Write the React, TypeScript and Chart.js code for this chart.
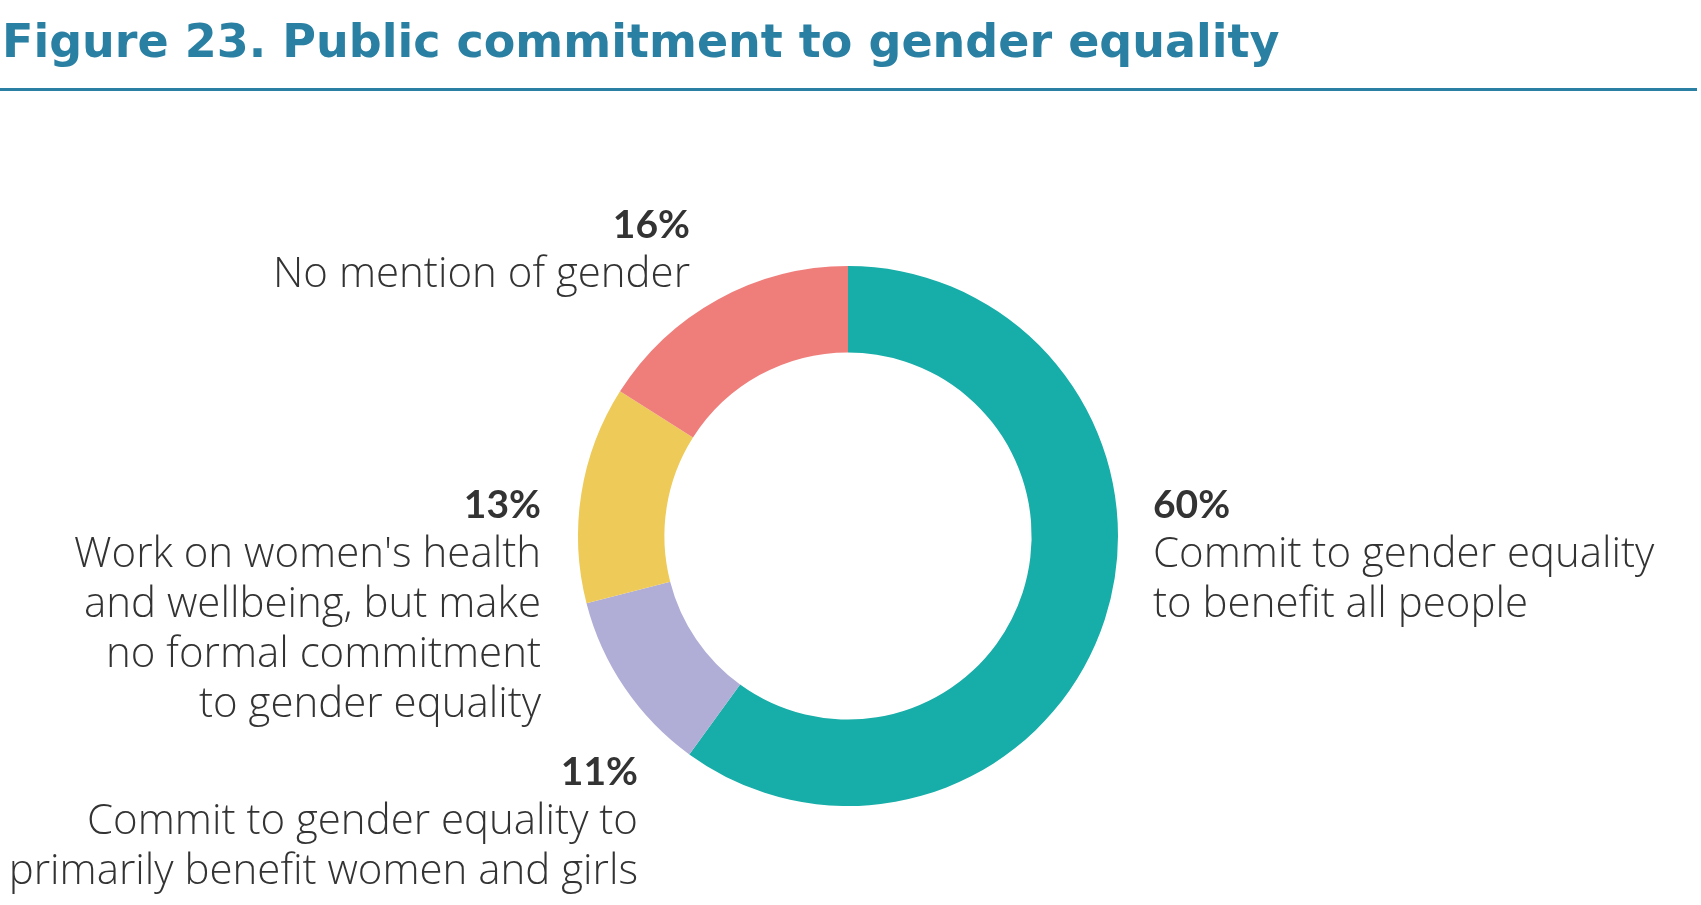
import React, { useEffect, useRef } from "react";
import { Chart, registerables } from "chart.js";

Chart.register(...registerables);

const categories = [
  "Commit to gender equality to benefit all people",
  "Commit to gender equality to primarily benefit women and girls",
  "Work on women's health and wellbeing, but make no formal commitment to gender equality",
  "No mention of gender",
];
const values = [60, 11, 13, 16];
const colors = ["#17ADA8", "#B0AED6", "#EECA58", "#EF7E7B"];
const labelLines = [
  ["Commit to gender equality", "to benefit all people"],
  ["Commit to gender equality to", "primarily benefit women and girls"],
  ["Work on women's health", "and wellbeing, but make", "no formal commitment", "to gender equality"],
  ["No mention of gender"],
];
const titleText = "Figure 23. Public commitment to gender equality";

// label anchor offsets relative to donut centre (in px) and alignment
const labelLayout = [
  { dx: 305, dy: -31, align: "left" },
  { dx: -210, dy: 236, align: "right" },
  { dx: -307, dy: -31, align: "right" },
  { dx: -158, dy: -311, align: "right" },
];

const TEXT_FONT = "'Open Sans', Lato, sans-serif";
const PCT_FONT = "Lato, sans-serif";
const LINE_H = 50;

const overlay = {
  id: "overlay",
  afterDraw(chart: any) {
    const ctx = chart.ctx;
    const arc = chart.getDatasetMeta(0).data[0];
    const cx = arc.x;
    const cy = arc.y;
    ctx.save();
    // title
    ctx.fillStyle = "#2A80A3";
    ctx.font = "bold 46px 'DejaVu Sans', sans-serif";
    ctx.textAlign = "left";
    ctx.textBaseline = "alphabetic";
    ctx.fillText(titleText, 2, 57);
    ctx.fillRect(0, 88, chart.width - 4, 3);
    // labels
    ctx.fillStyle = "#333333";
    ctx.textBaseline = "middle";
    labelLayout.forEach((l, i) => {
      const x = cx + l.dx;
      let y = cy + l.dy;
      ctx.textAlign = l.align;
      ctx.font = "bold 39px " + PCT_FONT;
      ctx.fillText(values[i] + "%", x, y);
      ctx.font = "300 42px " + TEXT_FONT;
      labelLines[i].forEach((line) => {
        y += LINE_H;
        ctx.fillText(line, x, y);
      });
    });
    ctx.restore();
  },
};

export default function App() {
  const ref = useRef<HTMLCanvasElement>(null);
  useEffect(() => {
    document.body.style.margin = "0";
    const chart = new Chart(ref.current!, {
      type: "doughnut",
      data: {
        labels: categories,
        datasets: [
          {
            data: values,
            backgroundColor: colors,
            borderWidth: 0,
          },
        ],
      },
      options: {
        responsive: false,
        animation: false,
        cutout: "68%",
        layout: { padding: { left: 578, right: 583, top: 266, bottom: 99 } },
        plugins: { legend: { display: false }, tooltip: { enabled: false }, title: { display: false } },
      },
      plugins: [overlay],
    });
    return () => chart.destroy();
  }, []);
  return <canvas ref={ref} width={1701} height={905} style={{ display: "block", width: 1701, height: 905 }} />;
}
